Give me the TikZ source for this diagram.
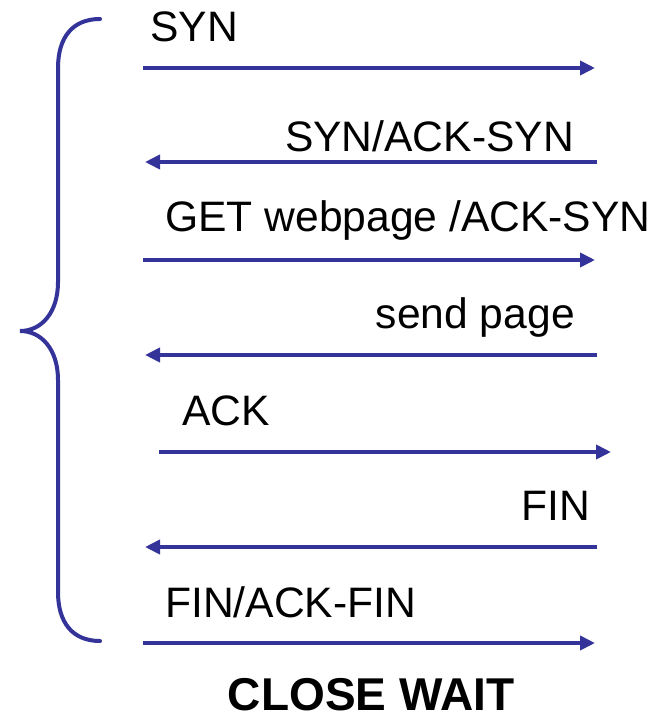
\documentclass[tikz,border=0pt]{standalone}
\usepackage{fontspec}
\setmainfont{Liberation Sans}
\usetikzlibrary{arrows.meta}
\definecolor{msgblue}{RGB}{51,51,153}
\tikzset{
  msg/.style={draw=msgblue, line width=4pt, -{Triangle[length=15pt,width=14pt]}},
  lbl/.style={inner sep=0pt, font=\fontsize{42.6}{50}\selectfont},
  brace/.style={draw=msgblue, line width=4pt, line cap=round}
}
\begin{document}
\begin{tikzpicture}[x=1pt, y=-1pt]
\useasboundingbox (0,0) rectangle (658,719);

% message labels
\node[lbl, anchor=base west] (l1) at (150,42) {SYN};
\node[lbl, anchor=base east] (l2) at (574,152) {SYN/ACK-SYN};
\node[lbl, anchor=base west] (l3) at (165,232) {GET webpage /ACK-SYN};
\node[lbl, anchor=base east] (l4) at (575,328) {send page};
\node[lbl, anchor=base west] (l5) at (182,425) {ACK};
\node[lbl, anchor=base east] (l6) at (590,520) {FIN};
\node[lbl, anchor=base west] (l7) at (165,617) {FIN/ACK-FIN};
\node[lbl, anchor=base, font=\fontsize{46}{54}\selectfont\bfseries] (state) at (371,710) {CLOSE WAIT};

% arrow end points
\coordinate (a1) at (143,68);  \coordinate (b1) at (595,68);
\coordinate (a2) at (597,162); \coordinate (b2) at (145,162);
\coordinate (a3) at (143,260); \coordinate (b3) at (595,260);
\coordinate (a4) at (597,355); \coordinate (b4) at (145,355);
\coordinate (a5) at (159,452); \coordinate (b5) at (611,452);
\coordinate (a6) at (597,547); \coordinate (b6) at (145,547);
\coordinate (a7) at (143,643); \coordinate (b7) at (595,643);

\foreach \i in {1,...,7} { \draw[msg] (a\i) -- (b\i); }

% brace grouping the exchange
\coordinate (bt) at (100,19);
\coordinate (bm) at (20,331);
\coordinate (bb) at (100,641);
\draw[brace] (bt) .. controls (72,19) and (58,38) .. (58,68)
  -- (58,282) .. controls (58,312) and (42,331) .. (bm)
  .. controls (42,331) and (58,350) .. (58,380)
  -- (58,592) .. controls (58,622) and (72,641) .. (bb);
\end{tikzpicture}
\end{document}
